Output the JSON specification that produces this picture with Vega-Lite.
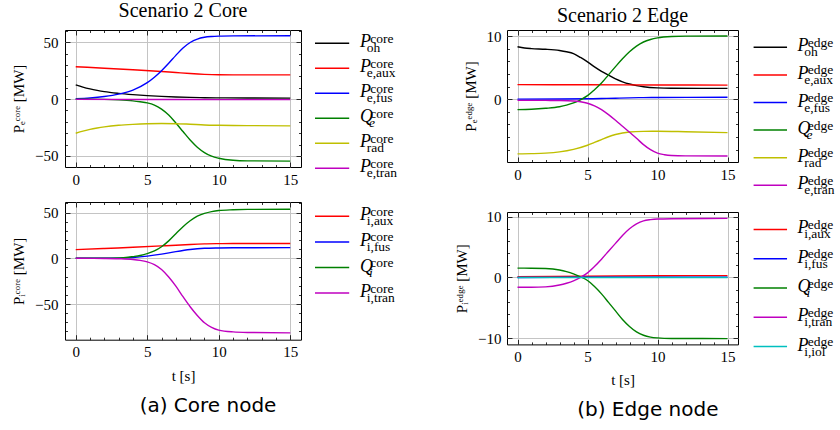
{
  "$schema": "https://vega.github.io/schema/vega-lite/v6.json",
  "background": "white",
  "padding": {"left": 11, "top": 0, "right": 0, "bottom": 0},
  "config": {
    "font": "Liberation Serif",
    "view": {"stroke": "#000", "strokeWidth": 1},
    "axis": {"labelFont": "Liberation Serif", "labelFontSize": 15, "labelColor": "#000", "titleFont": "Liberation Serif", "titleFontSize": 15, "titleFontWeight": "normal", "titleColor": "#000", "titlePadding": 8, "domain": false, "tickColor": "#000", "tickWidth": 0.8, "gridColor": "#c4c4c4", "gridWidth": 1, "labelFlush": false, "labelOverlap": false},
    "title": {"font": "Liberation Serif", "fontSize": 20, "fontWeight": "normal", "color": "#000"},
    "concat": {"spacing": 12}
  },
  "resolve": {"scale": {"color": "independent"}},
  "spacing": 49,
  "hconcat": [
    {
      "title": {"text": "(a) Core node", "orient": "bottom", "anchor": "middle", "font": "DejaVu Sans", "fontSize": 20, "offset": 12},
      "resolve": {"scale": {"color": "independent"}},
      "spacing": 5,
      "vconcat": [
        {
          "spacing": 12,
          "resolve": {"scale": {"color": "independent"}},
          "hconcat": [
            {
              "width": 236, "height": 137,
              "title": {"text": "Scenario 2 Core", "offset": 3},
              "data": {"values": [
                {"k":"oh","t":0,"v":12.6},{"k":"oh","t":0.5,"v":10.6},{"k":"oh","t":1,"v":9.0},{"k":"oh","t":1.5,"v":7.7},{"k":"oh","t":2,"v":6.6},{"k":"oh","t":3,"v":5.1},{"k":"oh","t":4,"v":4.0},{"k":"oh","t":5,"v":3.1},{"k":"oh","t":6,"v":2.4},{"k":"oh","t":7,"v":1.9},{"k":"oh","t":8,"v":1.5},{"k":"oh","t":9,"v":1.25},{"k":"oh","t":10,"v":1.1},{"k":"oh","t":12,"v":1.0},{"k":"oh","t":15,"v":0.9},
                {"k":"eaux","t":0,"v":28.5},{"k":"eaux","t":2,"v":27.2},{"k":"eaux","t":4,"v":25.8},{"k":"eaux","t":6,"v":24.3},{"k":"eaux","t":7,"v":23.4},{"k":"eaux","t":8,"v":22.5},{"k":"eaux","t":9,"v":21.8},{"k":"eaux","t":10,"v":21.4},{"k":"eaux","t":11,"v":21.3},{"k":"eaux","t":15,"v":21.3},
                {"k":"efus","t":0,"v":0.3},{"k":"efus","t":1,"v":1.0},{"k":"efus","t":2,"v":2.3},{"k":"efus","t":3,"v":4.4},{"k":"efus","t":4,"v":8.0},{"k":"efus","t":5,"v":14.5},{"k":"efus","t":5.5,"v":19.3},{"k":"efus","t":6,"v":25},{"k":"efus","t":6.5,"v":31.5},{"k":"efus","t":7,"v":38.5},{"k":"efus","t":7.5,"v":45},{"k":"efus","t":8,"v":49.8},{"k":"efus","t":8.5,"v":52.8},{"k":"efus","t":9,"v":54.4},{"k":"efus","t":9.5,"v":55.1},{"k":"efus","t":10,"v":55.4},{"k":"efus","t":11,"v":55.6},{"k":"efus","t":15,"v":55.8},
                {"k":"Qe","t":0,"v":0},{"k":"Qe","t":2,"v":-0.2},{"k":"Qe","t":3,"v":-0.6},{"k":"Qe","t":4,"v":-1.5},{"k":"Qe","t":4.5,"v":-2.3},{"k":"Qe","t":5,"v":-3.3},{"k":"Qe","t":5.5,"v":-5.2},{"k":"Qe","t":6,"v":-8.8},{"k":"Qe","t":6.5,"v":-14},{"k":"Qe","t":7,"v":-21},{"k":"Qe","t":7.5,"v":-28.5},{"k":"Qe","t":8,"v":-36},{"k":"Qe","t":8.5,"v":-42.3},{"k":"Qe","t":9,"v":-47},{"k":"Qe","t":9.5,"v":-50.2},{"k":"Qe","t":10,"v":-52},{"k":"Qe","t":11,"v":-53.8},{"k":"Qe","t":12,"v":-54.3},{"k":"Qe","t":15,"v":-54.5},
                {"k":"rad","t":0,"v":-30},{"k":"rad","t":0.5,"v":-28.2},{"k":"rad","t":1,"v":-26.6},{"k":"rad","t":1.5,"v":-25.4},{"k":"rad","t":2,"v":-24.4},{"k":"rad","t":3,"v":-23},{"k":"rad","t":4,"v":-22.2},{"k":"rad","t":5,"v":-21.7},{"k":"rad","t":6,"v":-21.5},{"k":"rad","t":7,"v":-21.6},{"k":"rad","t":8,"v":-22.1},{"k":"rad","t":9,"v":-22.7},{"k":"rad","t":10,"v":-23.0},{"k":"rad","t":12,"v":-23.3},{"k":"rad","t":15,"v":-23.5},
                {"k":"etran","t":0,"v":-0.2},{"k":"etran","t":5,"v":-0.3},{"k":"etran","t":10,"v":-0.4},{"k":"etran","t":15,"v":-0.4}
              ]},
              "encoding": {"color": {"field": "k", "type": "nominal", "scale": {"domain": ["oh","eaux","efus","Qe","rad","etran"], "range": ["#000000","#ff0000","#0000ff","#008000","#bfbf00","#bf00bf"]}, "legend": null}},
              "layer": [
                {"mark": {"type": "line", "interpolate": "monotone", "strokeWidth": 1.4},
                 "encoding": {
                   "x": {"field": "t", "type": "quantitative", "scale": {"domain": [-0.75, 15.75], "nice": false, "zero": false},
                         "axis": {"title": null, "values": [0,1,2,3,4,5,6,7,8,9,10,11,12,13,14,15], "grid": true, "gridOpacity": {"condition": {"test": "datum.value % 5 === 0", "value": 1}, "value": 0}, "tickSize": {"condition": {"test": "datum.value % 5 === 0", "value": -5}, "value": -2.5}, "labelExpr": "datum.value % 5 === 0 ? datum.label : ''", "labelPadding": 10}},
                   "y": {"field": "v", "type": "quantitative", "scale": {"domain": [-59.7, 60.8], "nice": false, "zero": false},
                         "axis": {"title": "Pₑᶜᵒʳᵉ [MW]", "values": [-50,-40,-30,-20,-10,0,10,20,30,40,50,60], "grid": true, "gridOpacity": {"condition": {"test": "datum.value % 50 === 0", "value": 1}, "value": 0}, "tickSize": {"condition": {"test": "datum.value % 50 === 0", "value": -5}, "value": -2.5}, "labelExpr": "datum.value % 50 === 0 ? datum.label : ''", "labelPadding": 12}}
                 }},
                {"mark": {"type": "line", "strokeOpacity": 0},
                 "encoding": {
                   "x": {"field": "t", "type": "quantitative", "scale": {"domain": [-0.75, 15.75], "nice": false, "zero": false},
                         "axis": {"orient": "top", "title": null, "labels": false, "grid": false, "values": [0,1,2,3,4,5,6,7,8,9,10,11,12,13,14,15], "tickSize": {"condition": {"test": "datum.value % 5 === 0", "value": -5}, "value": -2.5}}},
                   "y": {"field": "v", "type": "quantitative", "scale": {"domain": [-59.7, 60.8], "nice": false, "zero": false},
                         "axis": {"orient": "right", "title": null, "labels": false, "grid": false, "values": [-50,-40,-30,-20,-10,0,10,20,30,40,50,60], "tickSize": {"condition": {"test": "datum.value % 50 === 0", "value": -5}, "value": -2.5}}}
                 }}
              ],
              "resolve": {"scale": {"x": "independent", "y": "independent"}, "axis": {"x": "independent", "y": "independent"}}
            },
            {
              "width": 90, "height": 143.3,
              "view": {"stroke": null},
              "data": {"values": [
                {"k":"oh","b":"P","sup":"core","sub":"oh"},
                {"k":"eaux","b":"P","sup":"core","sub":"e,aux"},
                {"k":"efus","b":"P","sup":"core","sub":"e,fus"},
                {"k":"Qe","b":"Q","sup":"core","sub":"e"},
                {"k":"rad","b":"P","sup":"core","sub":"rad"},
                {"k":"etran","b":"P","sup":"core","sub":"e,tran"}
              ]},
              "encoding": {"y": {"field": "k", "type": "ordinal", "sort": null, "scale": {"type": "point", "padding": 0.366, "align": 0.727, "domain": ["oh","eaux","efus","Qe","rad","etran"]}, "axis": null}},
              "layer": [
                {"mark": {"type": "rule", "strokeWidth": 1.5},
                 "encoding": {"x": {"datum": 0, "type": "quantitative", "scale": {"domain": [0, 100], "nice": false, "zero": false}, "axis": null}, "x2": {"datum": 38},
                   "color": {"field": "k", "type": "nominal", "scale": {"domain": ["oh","eaux","efus","Qe","rad","etran"], "range": ["#000000","#ff0000","#0000ff","#008000","#bfbf00","#bf00bf"]}, "legend": null}}},
                {"mark": {"type": "text", "align": "left", "baseline": "alphabetic", "fontStyle": "italic", "fontSize": 18, "dy": 4, "color": "#000"},
                 "encoding": {"x": {"datum": 50, "type": "quantitative"}, "text": {"field": "b"}}},
                {"mark": {"type": "text", "align": "left", "baseline": "alphabetic", "fontSize": 13.5, "dy": -0.5, "color": "#000"},
                 "encoding": {"x": {"datum": 61.5, "type": "quantitative"}, "text": {"field": "sup"}}},
                {"transform": [{"filter": "datum.b !== 'Q'"}],
                 "mark": {"type": "text", "align": "left", "baseline": "alphabetic", "fontSize": 13.5, "dy": 9, "color": "#000"},
                 "encoding": {"x": {"datum": 57.5, "type": "quantitative"}, "text": {"field": "sub"}}},
                {"transform": [{"filter": "datum.b === 'Q'"}],
                 "mark": {"type": "text", "align": "left", "baseline": "alphabetic", "fontSize": 13.5, "fontStyle": "italic", "dy": 9, "color": "#000"},
                 "encoding": {"x": {"datum": 60, "type": "quantitative"}, "text": {"field": "sub"}}}
              ]
            }
          ]
        },
        {
          "spacing": 12,
          "resolve": {"scale": {"color": "independent"}},
          "hconcat": [
            {
              "width": 236, "height": 137.7,
              "data": {"values": [
                {"k":"iaux","t":0,"v":9.4},{"k":"iaux","t":2,"v":10.7},{"k":"iaux","t":4,"v":12.0},{"k":"iaux","t":6,"v":13.5},{"k":"iaux","t":7,"v":14.3},{"k":"iaux","t":8,"v":15.1},{"k":"iaux","t":9,"v":15.7},{"k":"iaux","t":10,"v":16.0},{"k":"iaux","t":11,"v":16.2},{"k":"iaux","t":15,"v":16.2},
                {"k":"ifus","t":0,"v":0},{"k":"ifus","t":2,"v":0.05},{"k":"ifus","t":3,"v":0.2},{"k":"ifus","t":4,"v":0.8},{"k":"ifus","t":5,"v":2.3},{"k":"ifus","t":6,"v":4.5},{"k":"ifus","t":7,"v":7.3},{"k":"ifus","t":8,"v":9.6},{"k":"ifus","t":9,"v":10.9},{"k":"ifus","t":10,"v":11.3},{"k":"ifus","t":11,"v":11.5},{"k":"ifus","t":15,"v":11.6},
                {"k":"Qi","t":0,"v":0},{"k":"Qi","t":2,"v":0},{"k":"Qi","t":3,"v":0.4},{"k":"Qi","t":3.5,"v":0.8},{"k":"Qi","t":4,"v":1.8},{"k":"Qi","t":4.5,"v":3},{"k":"Qi","t":5,"v":5},{"k":"Qi","t":5.5,"v":8},{"k":"Qi","t":6,"v":12.6},{"k":"Qi","t":6.5,"v":19},{"k":"Qi","t":7,"v":26.8},{"k":"Qi","t":7.5,"v":34.5},{"k":"Qi","t":8,"v":41},{"k":"Qi","t":8.5,"v":46},{"k":"Qi","t":9,"v":49},{"k":"Qi","t":9.5,"v":51},{"k":"Qi","t":10,"v":52.2},{"k":"Qi","t":11,"v":53},{"k":"Qi","t":12,"v":53.4},{"k":"Qi","t":15,"v":53.6},
                {"k":"itran","t":0,"v":0},{"k":"itran","t":2,"v":-0.2},{"k":"itran","t":3,"v":-0.5},{"k":"itran","t":4,"v":-1.3},{"k":"itran","t":4.5,"v":-2.3},{"k":"itran","t":5,"v":-4},{"k":"itran","t":5.5,"v":-7},{"k":"itran","t":6,"v":-12.3},{"k":"itran","t":6.5,"v":-20.5},{"k":"itran","t":7,"v":-30.5},{"k":"itran","t":7.5,"v":-42},{"k":"itran","t":8,"v":-53},{"k":"itran","t":8.5,"v":-62.5},{"k":"itran","t":9,"v":-70.5},{"k":"itran","t":9.5,"v":-75.5},{"k":"itran","t":10,"v":-78.5},{"k":"itran","t":11,"v":-80.5},{"k":"itran","t":12,"v":-81.1},{"k":"itran","t":15,"v":-81.5}
              ]},
              "encoding": {"color": {"field": "k", "type": "nominal", "scale": {"domain": ["iaux","ifus","Qi","itran"], "range": ["#ff0000","#0000ff","#008000","#bf00bf"]}, "legend": null}},
              "layer": [
                {"mark": {"type": "line", "interpolate": "monotone", "strokeWidth": 1.4},
                 "encoding": {
                   "x": {"field": "t", "type": "quantitative", "scale": {"domain": [-0.75, 15.75], "nice": false, "zero": false},
                         "axis": {"title": "t [s]", "titlePadding": 6, "values": [0,1,2,3,4,5,6,7,8,9,10,11,12,13,14,15], "grid": true, "gridOpacity": {"condition": {"test": "datum.value % 5 === 0", "value": 1}, "value": 0}, "tickSize": {"condition": {"test": "datum.value % 5 === 0", "value": -5}, "value": -2.5}, "labelExpr": "datum.value % 5 === 0 ? datum.label : ''", "labelPadding": 10}},
                   "y": {"field": "v", "type": "quantitative", "scale": {"domain": [-89, 61.5], "nice": false, "zero": false},
                         "axis": {"title": "Pᵢᶜᵒʳᵉ [MW]", "values": [-80,-70,-60,-50,-40,-30,-20,-10,0,10,20,30,40,50,60], "grid": true, "gridOpacity": {"condition": {"test": "datum.value % 50 === 0", "value": 1}, "value": 0}, "tickSize": {"condition": {"test": "datum.value % 50 === 0", "value": -5}, "value": -2.5}, "labelExpr": "datum.value % 50 === 0 ? datum.label : ''", "labelPadding": 12}}
                 }},
                {"mark": {"type": "line", "strokeOpacity": 0},
                 "encoding": {
                   "x": {"field": "t", "type": "quantitative", "scale": {"domain": [-0.75, 15.75], "nice": false, "zero": false},
                         "axis": {"orient": "top", "title": null, "labels": false, "grid": false, "values": [0,1,2,3,4,5,6,7,8,9,10,11,12,13,14,15], "tickSize": {"condition": {"test": "datum.value % 5 === 0", "value": -5}, "value": -2.5}}},
                   "y": {"field": "v", "type": "quantitative", "scale": {"domain": [-89, 61.5], "nice": false, "zero": false},
                         "axis": {"orient": "right", "title": null, "labels": false, "grid": false, "values": [-80,-70,-60,-50,-40,-30,-20,-10,0,10,20,30,40,50,60], "tickSize": {"condition": {"test": "datum.value % 50 === 0", "value": -5}, "value": -2.5}}}
                 }}
              ],
              "resolve": {"scale": {"x": "independent", "y": "independent"}, "axis": {"x": "independent", "y": "independent"}}
            },
            {
              "width": 90, "height": 96.1,
              "view": {"stroke": null},
              "data": {"values": [
                {"k":"iaux","b":"P","sup":"core","sub":"i,aux"},
                {"k":"ifus","b":"P","sup":"core","sub":"i,fus"},
                {"k":"Qi","b":"Q","sup":"core","sub":"i"},
                {"k":"itran","b":"P","sup":"core","sub":"i,tran"}
              ]},
              "encoding": {"y": {"field": "k", "type": "ordinal", "sort": null, "scale": {"type": "point", "padding": 0.377, "align": 0.741, "domain": ["iaux","ifus","Qi","itran"]}, "axis": null}},
              "layer": [
                {"mark": {"type": "rule", "strokeWidth": 1.5},
                 "encoding": {"x": {"datum": 0, "type": "quantitative", "scale": {"domain": [0, 100], "nice": false, "zero": false}, "axis": null}, "x2": {"datum": 38},
                   "color": {"field": "k", "type": "nominal", "scale": {"domain": ["iaux","ifus","Qi","itran"], "range": ["#ff0000","#0000ff","#008000","#bf00bf"]}, "legend": null}}},
                {"mark": {"type": "text", "align": "left", "baseline": "alphabetic", "fontStyle": "italic", "fontSize": 18, "dy": 4, "color": "#000"},
                 "encoding": {"x": {"datum": 50, "type": "quantitative"}, "text": {"field": "b"}}},
                {"mark": {"type": "text", "align": "left", "baseline": "alphabetic", "fontSize": 13.5, "dy": -0.5, "color": "#000"},
                 "encoding": {"x": {"datum": 61.5, "type": "quantitative"}, "text": {"field": "sup"}}},
                {"transform": [{"filter": "datum.b !== 'Q'"}],
                 "mark": {"type": "text", "align": "left", "baseline": "alphabetic", "fontSize": 13.5, "dy": 9, "color": "#000"},
                 "encoding": {"x": {"datum": 57.5, "type": "quantitative"}, "text": {"field": "sub"}}},
                {"transform": [{"filter": "datum.b === 'Q'"}],
                 "mark": {"type": "text", "align": "left", "baseline": "alphabetic", "fontSize": 13.5, "fontStyle": "italic", "dy": 9, "color": "#000"},
                 "encoding": {"x": {"datum": 60, "type": "quantitative"}, "text": {"field": "sub"}}}
              ]
            }
          ]
        }
      ]
    },
    {
      "title": {"text": "(b) Edge node", "orient": "bottom", "anchor": "middle", "font": "DejaVu Sans", "fontSize": 20, "offset": 12},
      "resolve": {"scale": {"color": "independent"}},
      "spacing": 12,
      "vconcat": [
        {
          "spacing": 13.6,
          "resolve": {"scale": {"color": "independent"}},
          "hconcat": [
            {
              "width": 231, "height": 132,
              "title": {"text": "Scenario 2 Edge", "offset": 3},
              "data": {"values": [
                {"k":"oh","t":0,"v":8.3},{"k":"oh","t":0.5,"v":8.1},{"k":"oh","t":1,"v":8.0},{"k":"oh","t":2,"v":7.9},{"k":"oh","t":3,"v":7.7},{"k":"oh","t":3.5,"v":7.5},{"k":"oh","t":4,"v":7.2},{"k":"oh","t":4.5,"v":6.6},{"k":"oh","t":5,"v":5.9},{"k":"oh","t":5.5,"v":5.1},{"k":"oh","t":6,"v":4.4},{"k":"oh","t":6.5,"v":3.8},{"k":"oh","t":7,"v":3.2},{"k":"oh","t":7.5,"v":2.75},{"k":"oh","t":8,"v":2.4},{"k":"oh","t":8.5,"v":2.15},{"k":"oh","t":9,"v":1.97},{"k":"oh","t":10,"v":1.78},{"k":"oh","t":11,"v":1.72},{"k":"oh","t":15,"v":1.7},
                {"k":"eaux","t":0,"v":2.3},{"k":"eaux","t":5,"v":2.28},{"k":"eaux","t":10,"v":2.25},{"k":"eaux","t":15,"v":2.22},
                {"k":"efus","t":0,"v":0},{"k":"efus","t":3,"v":0.02},{"k":"efus","t":5,"v":0.06},{"k":"efus","t":6,"v":0.1},{"k":"efus","t":7,"v":0.15},{"k":"efus","t":8,"v":0.21},{"k":"efus","t":9,"v":0.25},{"k":"efus","t":10,"v":0.27},{"k":"efus","t":15,"v":0.3},
                {"k":"Qe","t":0,"v":-1.65},{"k":"Qe","t":1,"v":-1.6},{"k":"Qe","t":2,"v":-1.45},{"k":"Qe","t":3,"v":-1.2},{"k":"Qe","t":3.5,"v":-0.95},{"k":"Qe","t":4,"v":-0.6},{"k":"Qe","t":4.5,"v":-0.1},{"k":"Qe","t":5,"v":0.55},{"k":"Qe","t":5.5,"v":1.5},{"k":"Qe","t":6,"v":2.55},{"k":"Qe","t":6.5,"v":3.85},{"k":"Qe","t":7,"v":5.15},{"k":"Qe","t":7.5,"v":6.4},{"k":"Qe","t":8,"v":7.5},{"k":"Qe","t":8.5,"v":8.4},{"k":"Qe","t":9,"v":9.05},{"k":"Qe","t":9.5,"v":9.45},{"k":"Qe","t":10,"v":9.7},{"k":"Qe","t":11,"v":9.92},{"k":"Qe","t":12,"v":9.98},{"k":"Qe","t":15,"v":10.0},
                {"k":"rad","t":0,"v":-8.67},{"k":"rad","t":1,"v":-8.63},{"k":"rad","t":2,"v":-8.55},{"k":"rad","t":3,"v":-8.35},{"k":"rad","t":4,"v":-7.95},{"k":"rad","t":5,"v":-7.3},{"k":"rad","t":5.5,"v":-6.85},{"k":"rad","t":6,"v":-6.4},{"k":"rad","t":6.5,"v":-5.95},{"k":"rad","t":7,"v":-5.6},{"k":"rad","t":7.5,"v":-5.35},{"k":"rad","t":8,"v":-5.2},{"k":"rad","t":9,"v":-5.1},{"k":"rad","t":10,"v":-5.08},{"k":"rad","t":12,"v":-5.15},{"k":"rad","t":15,"v":-5.3},
                {"k":"etran","t":0,"v":-0.2},{"k":"etran","t":2,"v":-0.2},{"k":"etran","t":3,"v":-0.22},{"k":"etran","t":4,"v":-0.3},{"k":"etran","t":4.5,"v":-0.42},{"k":"etran","t":5,"v":-0.65},{"k":"etran","t":5.5,"v":-1.05},{"k":"etran","t":6,"v":-1.65},{"k":"etran","t":6.5,"v":-2.45},{"k":"etran","t":7,"v":-3.35},{"k":"etran","t":7.5,"v":-4.3},{"k":"etran","t":8,"v":-5.25},{"k":"etran","t":8.5,"v":-6.2},{"k":"etran","t":9,"v":-7.2},{"k":"etran","t":9.5,"v":-8.0},{"k":"etran","t":10,"v":-8.55},{"k":"etran","t":10.5,"v":-8.8},{"k":"etran","t":11,"v":-8.92},{"k":"etran","t":12,"v":-8.98},{"k":"etran","t":15,"v":-9.0}
              ]},
              "encoding": {"color": {"field": "k", "type": "nominal", "scale": {"domain": ["oh","eaux","efus","Qe","rad","etran"], "range": ["#000000","#ff0000","#0000ff","#008000","#bfbf00","#bf00bf"]}, "legend": null}},
              "layer": [
                {"mark": {"type": "line", "interpolate": "monotone", "strokeWidth": 1.4},
                 "encoding": {
                   "x": {"field": "t", "type": "quantitative", "scale": {"domain": [-0.75, 15.75], "nice": false, "zero": false},
                         "axis": {"title": null, "values": [0,1,2,3,4,5,6,7,8,9,10,11,12,13,14,15], "grid": true, "gridOpacity": {"condition": {"test": "datum.value % 5 === 0", "value": 1}, "value": 0}, "tickSize": {"condition": {"test": "datum.value % 5 === 0", "value": -5}, "value": -2.5}, "labelExpr": "datum.value % 5 === 0 ? datum.label : ''", "labelPadding": 10}},
                   "y": {"field": "v", "type": "quantitative", "scale": {"domain": [-9.95, 10.95], "nice": false, "zero": false},
                         "axis": {"title": "Pₑᵉᵈᵍᵉ [MW]", "values": [-8,-6,-4,-2,0,2,4,6,8,10], "grid": true, "gridOpacity": {"condition": {"test": "datum.value % 10 === 0", "value": 1}, "value": 0}, "tickSize": {"condition": {"test": "datum.value % 10 === 0", "value": -5}, "value": -2.5}, "labelExpr": "datum.value % 10 === 0 ? datum.label : ''", "labelPadding": 11}}
                 }},
                {"mark": {"type": "line", "strokeOpacity": 0},
                 "encoding": {
                   "x": {"field": "t", "type": "quantitative", "scale": {"domain": [-0.75, 15.75], "nice": false, "zero": false},
                         "axis": {"orient": "top", "title": null, "labels": false, "grid": false, "values": [0,1,2,3,4,5,6,7,8,9,10,11,12,13,14,15], "tickSize": {"condition": {"test": "datum.value % 5 === 0", "value": -5}, "value": -2.5}}},
                   "y": {"field": "v", "type": "quantitative", "scale": {"domain": [-9.95, 10.95], "nice": false, "zero": false},
                         "axis": {"orient": "right", "title": null, "labels": false, "grid": false, "values": [-8,-6,-4,-2,0,2,4,6,8,10], "tickSize": {"condition": {"test": "datum.value % 10 === 0", "value": -5}, "value": -2.5}}}
                 }}
              ],
              "resolve": {"scale": {"x": "independent", "y": "independent"}, "axis": {"x": "independent", "y": "independent"}}
            },
            {
              "width": 88, "height": 160.3,
              "view": {"stroke": null},
              "data": {"values": [
                {"k":"oh","b":"P","sup":"edge","sub":"oh"},
                {"k":"eaux","b":"P","sup":"edge","sub":"e,aux"},
                {"k":"efus","b":"P","sup":"edge","sub":"e,fus"},
                {"k":"Qe","b":"Q","sup":"edge","sub":"e"},
                {"k":"rad","b":"P","sup":"edge","sub":"rad"},
                {"k":"etran","b":"P","sup":"edge","sub":"e,tran"}
              ]},
              "encoding": {"y": {"field": "k", "type": "ordinal", "sort": null, "scale": {"type": "point", "padding": 0.404, "align": 0.776, "domain": ["oh","eaux","efus","Qe","rad","etran"]}, "axis": null}},
              "layer": [
                {"mark": {"type": "rule", "strokeWidth": 1.5},
                 "encoding": {"x": {"datum": 0, "type": "quantitative", "scale": {"domain": [0, 100], "nice": false, "zero": false}, "axis": null}, "x2": {"datum": 38},
                   "color": {"field": "k", "type": "nominal", "scale": {"domain": ["oh","eaux","efus","Qe","rad","etran"], "range": ["#000000","#ff0000","#0000ff","#008000","#bfbf00","#bf00bf"]}, "legend": null}}},
                {"mark": {"type": "text", "align": "left", "baseline": "alphabetic", "fontStyle": "italic", "fontSize": 18, "dy": 4, "color": "#000"},
                 "encoding": {"x": {"datum": 50, "type": "quantitative"}, "text": {"field": "b"}}},
                {"mark": {"type": "text", "align": "left", "baseline": "alphabetic", "fontSize": 13.5, "dy": -0.5, "color": "#000"},
                 "encoding": {"x": {"datum": 61.5, "type": "quantitative"}, "text": {"field": "sup"}}},
                {"transform": [{"filter": "datum.b !== 'Q'"}],
                 "mark": {"type": "text", "align": "left", "baseline": "alphabetic", "fontSize": 13.5, "dy": 9, "color": "#000"},
                 "encoding": {"x": {"datum": 57.5, "type": "quantitative"}, "text": {"field": "sub"}}},
                {"transform": [{"filter": "datum.b === 'Q'"}],
                 "mark": {"type": "text", "align": "left", "baseline": "alphabetic", "fontSize": 13.5, "fontStyle": "italic", "dy": 9, "color": "#000"},
                 "encoding": {"x": {"datum": 60, "type": "quantitative"}, "text": {"field": "sub"}}}
              ]
            }
          ]
        },
        {
          "spacing": 13.6,
          "resolve": {"scale": {"color": "independent"}},
          "hconcat": [
            {
              "width": 231, "height": 132.4,
              "data": {"values": [
                {"k":"iaux","t":0,"v":0.12},{"k":"iaux","t":5,"v":0.2},{"k":"iaux","t":10,"v":0.28},{"k":"iaux","t":15,"v":0.3},
                {"k":"ifus","t":0,"v":0},{"k":"ifus","t":5,"v":0.02},{"k":"ifus","t":10,"v":0.05},{"k":"ifus","t":15,"v":0.05},
                {"k":"Qi","t":0,"v":1.53},{"k":"Qi","t":1,"v":1.52},{"k":"Qi","t":2,"v":1.47},{"k":"Qi","t":3,"v":1.22},{"k":"Qi","t":3.5,"v":0.95},{"k":"Qi","t":4,"v":0.58},{"k":"Qi","t":4.5,"v":0.1},{"k":"Qi","t":5,"v":-0.5},{"k":"Qi","t":5.5,"v":-1.5},{"k":"Qi","t":6,"v":-2.7},{"k":"Qi","t":6.5,"v":-4.1},{"k":"Qi","t":7,"v":-5.5},{"k":"Qi","t":7.5,"v":-6.9},{"k":"Qi","t":8,"v":-8.05},{"k":"Qi","t":8.5,"v":-8.95},{"k":"Qi","t":9,"v":-9.5},{"k":"Qi","t":9.5,"v":-9.8},{"k":"Qi","t":10,"v":-9.93},{"k":"Qi","t":11,"v":-10.02},{"k":"Qi","t":15,"v":-10.05},
                {"k":"itran","t":0,"v":-1.6},{"k":"itran","t":1,"v":-1.6},{"k":"itran","t":2,"v":-1.55},{"k":"itran","t":3,"v":-1.25},{"k":"itran","t":3.5,"v":-0.95},{"k":"itran","t":4,"v":-0.55},{"k":"itran","t":4.5,"v":0},{"k":"itran","t":5,"v":0.75},{"k":"itran","t":5.5,"v":1.8},{"k":"itran","t":6,"v":3.0},{"k":"itran","t":6.5,"v":4.3},{"k":"itran","t":7,"v":5.6},{"k":"itran","t":7.5,"v":6.9},{"k":"itran","t":8,"v":8.0},{"k":"itran","t":8.5,"v":8.8},{"k":"itran","t":9,"v":9.3},{"k":"itran","t":9.5,"v":9.5},{"k":"itran","t":10,"v":9.6},{"k":"itran","t":11,"v":9.65},{"k":"itran","t":15,"v":9.7},
                {"k":"iiol","t":0,"v":0},{"k":"iiol","t":5,"v":0},{"k":"iiol","t":10,"v":0},{"k":"iiol","t":15,"v":0}
              ]},
              "encoding": {"color": {"field": "k", "type": "nominal", "scale": {"domain": ["iaux","ifus","Qi","itran","iiol"], "range": ["#ff0000","#0000ff","#008000","#bf00bf","#00bfbf"]}, "legend": null}},
              "layer": [
                {"mark": {"type": "line", "interpolate": "monotone", "strokeWidth": 1.4},
                 "encoding": {
                   "x": {"field": "t", "type": "quantitative", "scale": {"domain": [-0.75, 15.75], "nice": false, "zero": false},
                         "axis": {"title": "t [s]", "titlePadding": 6, "values": [0,1,2,3,4,5,6,7,8,9,10,11,12,13,14,15], "grid": true, "gridOpacity": {"condition": {"test": "datum.value % 5 === 0", "value": 1}, "value": 0}, "tickSize": {"condition": {"test": "datum.value % 5 === 0", "value": -5}, "value": -2.5}, "labelExpr": "datum.value % 5 === 0 ? datum.label : ''", "labelPadding": 10}},
                   "y": {"field": "v", "type": "quantitative", "scale": {"domain": [-11, 10.75], "nice": false, "zero": false},
                         "axis": {"title": "Pᵢᵉᵈᵍᵉ [MW]", "values": [-10,-8,-6,-4,-2,0,2,4,6,8,10], "grid": true, "gridOpacity": {"condition": {"test": "datum.value % 10 === 0", "value": 1}, "value": 0}, "tickSize": {"condition": {"test": "datum.value % 10 === 0", "value": -5}, "value": -2.5}, "labelExpr": "datum.value % 10 === 0 ? datum.label : ''", "labelPadding": 11}}
                 }},
                {"mark": {"type": "line", "strokeOpacity": 0},
                 "encoding": {
                   "x": {"field": "t", "type": "quantitative", "scale": {"domain": [-0.75, 15.75], "nice": false, "zero": false},
                         "axis": {"orient": "top", "title": null, "labels": false, "grid": false, "values": [0,1,2,3,4,5,6,7,8,9,10,11,12,13,14,15], "tickSize": {"condition": {"test": "datum.value % 5 === 0", "value": -5}, "value": -2.5}}},
                   "y": {"field": "v", "type": "quantitative", "scale": {"domain": [-11, 10.75], "nice": false, "zero": false},
                         "axis": {"orient": "right", "title": null, "labels": false, "grid": false, "values": [-10,-8,-6,-4,-2,0,2,4,6,8,10], "tickSize": {"condition": {"test": "datum.value % 10 === 0", "value": -5}, "value": -2.5}}}
                 }}
              ],
              "resolve": {"scale": {"x": "independent", "y": "independent"}, "axis": {"x": "independent", "y": "independent"}}
            },
            {
              "width": 88, "height": 139.6,
              "view": {"stroke": null},
              "data": {"values": [
                {"k":"iaux","b":"P","sup":"edge","sub":"i,aux"},
                {"k":"ifus","b":"P","sup":"edge","sub":"i,fus"},
                {"k":"Qi","b":"Q","sup":"edge","sub":"i"},
                {"k":"itran","b":"P","sup":"edge","sub":"i,tran"},
                {"k":"iiol","b":"P","sup":"edge","sub":"i,iol"}
              ]},
              "encoding": {"y": {"field": "k", "type": "ordinal", "sort": null, "scale": {"type": "point", "padding": 0.382, "align": 0.777, "domain": ["iaux","ifus","Qi","itran","iiol"]}, "axis": null}},
              "layer": [
                {"mark": {"type": "rule", "strokeWidth": 1.5},
                 "encoding": {"x": {"datum": 0, "type": "quantitative", "scale": {"domain": [0, 100], "nice": false, "zero": false}, "axis": null}, "x2": {"datum": 38},
                   "color": {"field": "k", "type": "nominal", "scale": {"domain": ["iaux","ifus","Qi","itran","iiol"], "range": ["#ff0000","#0000ff","#008000","#bf00bf","#00bfbf"]}, "legend": null}}},
                {"mark": {"type": "text", "align": "left", "baseline": "alphabetic", "fontStyle": "italic", "fontSize": 18, "dy": 4, "color": "#000"},
                 "encoding": {"x": {"datum": 50, "type": "quantitative"}, "text": {"field": "b"}}},
                {"mark": {"type": "text", "align": "left", "baseline": "alphabetic", "fontSize": 13.5, "dy": -0.5, "color": "#000"},
                 "encoding": {"x": {"datum": 61.5, "type": "quantitative"}, "text": {"field": "sup"}}},
                {"transform": [{"filter": "datum.b !== 'Q'"}],
                 "mark": {"type": "text", "align": "left", "baseline": "alphabetic", "fontSize": 13.5, "dy": 9, "color": "#000"},
                 "encoding": {"x": {"datum": 57.5, "type": "quantitative"}, "text": {"field": "sub"}}},
                {"transform": [{"filter": "datum.b === 'Q'"}],
                 "mark": {"type": "text", "align": "left", "baseline": "alphabetic", "fontSize": 13.5, "fontStyle": "italic", "dy": 9, "color": "#000"},
                 "encoding": {"x": {"datum": 60, "type": "quantitative"}, "text": {"field": "sub"}}}
              ]
            }
          ]
        }
      ]
    }
  ]
}
